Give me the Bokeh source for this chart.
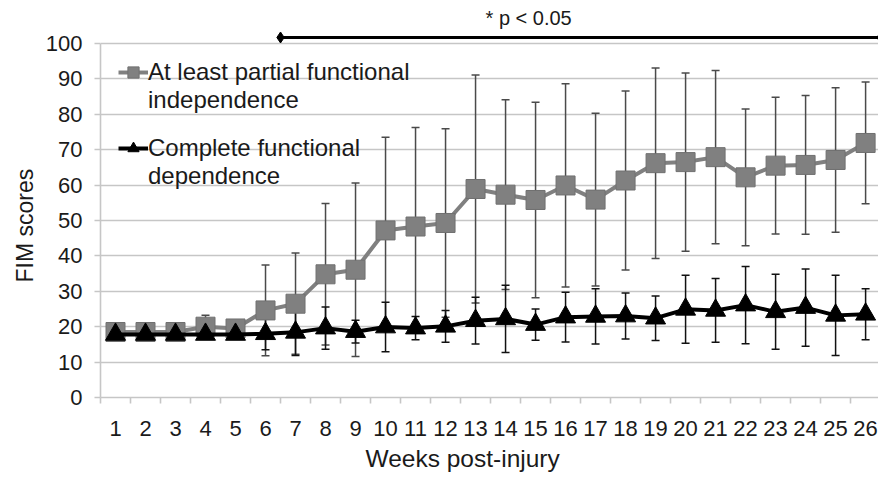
from bokeh.plotting import figure
from bokeh.models import (ColumnDataSource, Whisker, TeeHead, FixedTicker, Range1d,
                          Legend, LegendItem, Label, Title)
from bokeh.embed import file_html
from bokeh.resources import INLINE

# ---------------- data ----------------
weeks = list(range(1, 27))
partial_mean = [18.5, 18.5, 18.5, 20.0, 19.5, 24.6, 26.5, 34.8, 36.1, 47.2, 48.3, 49.3, 58.9,
                57.3, 55.8, 59.9, 55.9, 61.3, 66.2, 66.5, 67.9, 62.2, 65.5, 65.7, 67.1, 71.9]
partial_sd = [0.5, 0.5, 0.5, 3.2, 0.5, 12.8, 14.3, 20.0, 24.5, 26.3, 28.0, 26.6, 32.2,
              26.8, 27.6, 28.7, 24.4, 25.3, 26.9, 25.2, 24.5, 19.3, 19.3, 19.6, 20.4, 17.2]
complete_mean = [17.8, 17.8, 17.8, 17.8, 17.8, 18.0, 18.4, 19.6, 18.6, 19.9, 19.6, 20.1, 21.7,
                 22.2, 20.6, 22.7, 22.9, 23.0, 22.4, 24.9, 24.6, 26.1, 24.2, 25.4, 23.2, 23.5]
complete_sd = [0.5, 0.5, 0.5, 0.5, 0.5, 4.5, 6.5, 6.0, 3.2, 7.0, 3.3, 4.5, 6.6,
               9.5, 4.4, 7.0, 7.8, 6.5, 6.3, 9.6, 9.0, 10.9, 10.6, 10.9, 11.3, 7.2]
y_ticks = list(range(0, 101, 10))
series_partial = ["At least partial functional", "independence"]
series_complete = ["Complete functional", "dependence"]
sig_text = "* p < 0.05"
sig_first_week, sig_last_week = 7, 26
x_title = "Weeks post-injury"
y_title = "FIM scores"

FONT = "Liberation Sans"
GRAY = "#808080"
GRID = "#c6c6c6"
TXT = "#1a1a1a"

p = figure(width=878, height=477, output_backend="svg", toolbar_location=None,
           x_range=Range1d(0.5, 26.43), y_range=Range1d(0, 112.15),
           min_border_left=100, min_border_right=0, min_border_top=0, min_border_bottom=80)
p.outline_line_color = None
p.background_fill_color = "white"
p.xgrid.visible = False
p.ygrid.ticker = FixedTicker(ticks=y_ticks)
p.ygrid.grid_line_color = GRID
p.ygrid.grid_line_width = 1.6

# y axis
p.yaxis.ticker = FixedTicker(ticks=y_ticks)
p.yaxis.bounds = (0, 100)
p.yaxis.axis_line_color = GRID
p.yaxis.axis_line_width = 1.6
p.yaxis.major_tick_line_color = GRID
p.yaxis.major_tick_line_width = 1.6
p.yaxis.major_tick_out = 6
p.yaxis.major_tick_in = 0
p.yaxis.minor_tick_line_color = None
p.yaxis.major_label_standoff = 12

# x axis
p.xaxis.ticker = FixedTicker(ticks=weeks, minor_ticks=[w - 0.5 for w in weeks] + [weeks[-1] + 0.5])
p.xaxis.axis_line_color = GRID
p.xaxis.axis_line_width = 1.6
p.xaxis.major_tick_line_color = None
p.xaxis.major_tick_out = 0
p.xaxis.major_tick_in = 0
p.xaxis.minor_tick_line_color = GRID
p.xaxis.minor_tick_line_width = 1.6
p.xaxis.minor_tick_out = 6
p.xaxis.minor_tick_in = 0
p.xaxis.major_label_standoff = 17

for ax in (p.xaxis, p.yaxis):
    ax.major_label_text_font = FONT
    ax.major_label_text_font_size = "22px"
    ax.major_label_text_color = TXT

# axis titles as side titles (positioned like the reference, off-centre)
p.add_layout(Title(text=x_title, align="left", offset=265, standoff=8,
                   text_font=FONT, text_font_size="24.5px", text_font_style="normal",
                   text_color=TXT), "below")
p.add_layout(Title(text=y_title, align="left", offset=115, standoff=9,
                   text_font=FONT, text_font_size="23px", text_font_style="normal",
                   text_color=TXT), "left")

# ---------------- error bars ----------------
src_p = ColumnDataSource(dict(x=weeks, mean=partial_mean,
                              lower=[m - s for m, s in zip(partial_mean, partial_sd)],
                              upper=[m + s for m, s in zip(partial_mean, partial_sd)]))
src_c = ColumnDataSource(dict(x=weeks, mean=complete_mean,
                              lower=[m - s for m, s in zip(complete_mean, complete_sd)],
                              upper=[m + s for m, s in zip(complete_mean, complete_sd)]))

for src, col in ((src_p, "#4a4a4a"), (src_c, "#111111")):
    w = Whisker(source=src, base="x", upper="upper", lower="lower", dimension="height",
                line_color=col, line_width=1.5, level="underlay",
                upper_head=TeeHead(size=8, line_color=col, line_width=1.5),
                lower_head=TeeHead(size=8, line_color=col, line_width=1.5))
    p.add_layout(w)

# ---------------- series ----------------
gl = p.line("x", "mean", source=src_p, line_color=GRAY, line_width=4)
gs = p.scatter("x", "mean", source=src_p, marker="square", size=19,
               fill_color=GRAY, line_color="#707070", line_width=1)
bl = p.line("x", "mean", source=src_c, line_color="black", line_width=4)
bs = p.scatter("x", "mean", source=src_c, marker="triangle", size=20,
               fill_color="black", line_color="black")

# ---------------- significance bar ----------------
sig_src = ColumnDataSource(dict(x=[sig_first_week - 0.5, sig_last_week + 0.5], y=[101.7, 101.7]))
p.line("x", "y", source=sig_src, line_color="black", line_width=3)
p.scatter("x", "y", source=sig_src, marker="diamond", size=11, color="black")
p.add_layout(Label(x=14.77, y=107.3, text=sig_text, text_align="center", text_baseline="middle",
                   text_font=FONT, text_font_size="20px", text_color=TXT))

# ---------------- legend ----------------
dummies = [p.scatter(x=[], y=[], alpha=0) for _ in range(2)]
common = dict(glyph_width=30, glyph_height=28, label_height=28, spacing=0, padding=0, margin=0,
              label_standoff=0, label_text_font=FONT, label_text_font_size="24px",
              label_text_color=TXT, background_fill_alpha=0, border_line_alpha=0)
legend_a = Legend(items=[LegendItem(label=series_partial[0], renderers=[gl, gs]),
                         LegendItem(label=series_partial[1], renderers=[dummies[0]])],
                  location=(18, 283), **common)
legend_b = Legend(items=[LegendItem(label=series_complete[0], renderers=[bl, bs]),
                         LegendItem(label=series_complete[1], renderers=[dummies[1]])],
                  location=(18, 207), **common)
p.add_layout(legend_a)
p.add_layout(legend_b)

open("out.html", "w").write(file_html(p, INLINE))
